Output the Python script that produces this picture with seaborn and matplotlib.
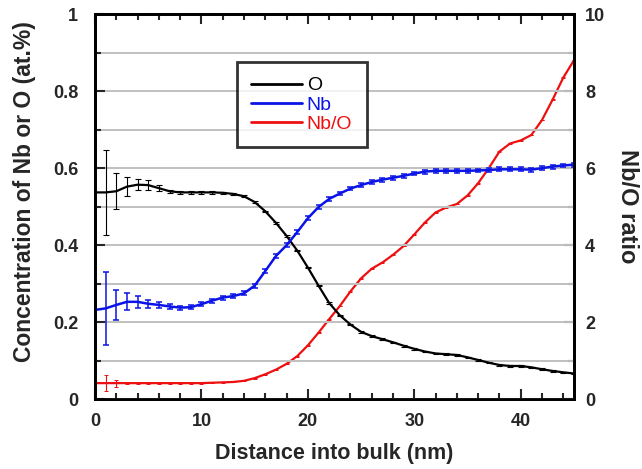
import numpy as np
import pandas as pd
import matplotlib
matplotlib.use("Agg")
import matplotlib.pyplot as plt
import seaborn as sns
from matplotlib.ticker import MultipleLocator
from matplotlib.lines import Line2D

# ---- data ----
distance_nm = list(range(0, 46))

o_conc = [0.537, 0.537, 0.540, 0.552, 0.557, 0.556, 0.548, 0.540, 0.537, 0.537,
          0.537, 0.537, 0.536, 0.533, 0.527, 0.512, 0.488, 0.458, 0.424, 0.386,
          0.342, 0.295, 0.250, 0.218, 0.194, 0.175, 0.164, 0.156, 0.148, 0.139,
          0.131, 0.124, 0.119, 0.117, 0.115, 0.109, 0.102, 0.095, 0.089, 0.0865,
          0.0865, 0.083, 0.078, 0.0735, 0.070, 0.067]
o_err = [0.0, 0.110, 0.047, 0.025, 0.014, 0.012, 0.007, 0.004, 0.003, 0.003,
         0.003, 0.003, 0.003, 0.003, 0.002, 0.002, 0.002, 0.002, 0.002, 0.002,
         0.002, 0.002, 0.002, 0.002, 0.002, 0.002, 0.002, 0.002, 0.002, 0.002,
         0.002, 0.002, 0.002, 0.002, 0.002, 0.002, 0.002, 0.002, 0.002, 0.002,
         0.002, 0.002, 0.002, 0.002, 0.002, 0.002]

nb_conc = [0.232, 0.236, 0.245, 0.253, 0.253, 0.248, 0.245, 0.241, 0.238, 0.239,
           0.247, 0.256, 0.264, 0.268, 0.275, 0.295, 0.333, 0.372, 0.400, 0.434,
           0.470, 0.499, 0.520, 0.534, 0.547, 0.556, 0.564, 0.570, 0.575, 0.580,
           0.586, 0.591, 0.593, 0.593, 0.593, 0.593, 0.594, 0.595, 0.597, 0.597,
           0.597, 0.596, 0.600, 0.604, 0.607, 0.609]
nb_err = [0.0, 0.095, 0.039, 0.0225, 0.015, 0.010, 0.007, 0.006, 0.005, 0.005,
          0.005, 0.005, 0.005, 0.005, 0.005, 0.005, 0.005, 0.005, 0.005, 0.005,
          0.005, 0.005, 0.005, 0.005, 0.005, 0.005, 0.005, 0.005, 0.005, 0.005,
          0.005, 0.005, 0.005, 0.005, 0.005, 0.005, 0.005, 0.005, 0.005, 0.005,
          0.005, 0.005, 0.005, 0.005, 0.005, 0.005]

ratio = [0.42, 0.42, 0.42, 0.42, 0.42, 0.42, 0.42, 0.42, 0.42, 0.42,
         0.42, 0.43, 0.44, 0.45, 0.48, 0.55, 0.65, 0.77, 0.92, 1.12,
         1.40, 1.73, 2.08, 2.42, 2.80, 3.14, 3.39, 3.55, 3.75, 3.98,
         4.28, 4.59, 4.85, 4.98, 5.07, 5.29, 5.61, 6.00, 6.43, 6.64,
         6.72, 6.86, 7.25, 7.78, 8.35, 8.80]
ratio_err = [0.0, 0.20, 0.09, 0.03, 0.01, 0.01, 0.01, 0.01, 0.01, 0.01,
             0.01, 0.01, 0.01, 0.01, 0.01, 0.01, 0.01, 0.01, 0.01, 0.01,
             0.01, 0.01, 0.01, 0.01, 0.01, 0.01, 0.01, 0.01, 0.01, 0.01,
             0.01, 0.01, 0.01, 0.01, 0.01, 0.01, 0.01, 0.01, 0.01, 0.01,
             0.01, 0.01, 0.01, 0.01, 0.01, 0.01]

series_labels = ["O", "Nb", "Nb/O"]
series_colors = ["#000000", "#0a14e6", "#ee1010"]

df = pd.DataFrame({"x": distance_nm, "O": o_conc, "O_err": o_err,
                   "Nb": nb_conc, "Nb_err": nb_err,
                   "ratio": ratio, "ratio_err": ratio_err})

# ---- style ----
sns.set_style("ticks")
plt.rcParams["font.family"] = ["Liberation Sans", "DejaVu Sans"]
plt.rcParams["font.weight"] = "bold"

fig = plt.figure(figsize=(6.42, 4.69), dpi=100)
ax = fig.add_axes([0.148, 0.1486, 0.746, 0.8215])
ax2 = ax.twinx()

# grid lines (horizontal)
ax.set_axisbelow(True)
ax.yaxis.grid(True, which="both", color="#c0c0c0", linewidth=1.4)
ax.xaxis.grid(False)

# O
sns.lineplot(data=df, x="x", y="O", ax=ax, color=series_colors[0], lw=1.6,
             label=series_labels[0], legend=False)
ax.errorbar(df["x"][1:], df["O"][1:], yerr=df["O_err"][1:], fmt="none",
            ecolor=series_colors[0], elinewidth=0.8, capsize=2.0, capthick=0.8)
# Nb
sns.lineplot(data=df, x="x", y="Nb", ax=ax, color=series_colors[1], lw=1.8,
             label=series_labels[1], legend=False)
ax.errorbar(df["x"][1:], df["Nb"][1:], yerr=df["Nb_err"][1:], fmt="none",
            ecolor=series_colors[1], elinewidth=1.1, capsize=2.2, capthick=1.1)
# Nb/O ratio
sns.lineplot(data=df, x="x", y="ratio", ax=ax2, color=series_colors[2], lw=1.6,
             label=series_labels[2], legend=False)
ax2.errorbar(df["x"][1:], df["ratio"][1:], yerr=df["ratio_err"][1:], fmt="none",
             ecolor=series_colors[2], elinewidth=0.8, capsize=1.6, capthick=0.7)

ax.set_xlim(0, 45)
ax.set_ylim(0, 1)
ax2.set_ylim(0, 10)

ax.xaxis.set_major_locator(MultipleLocator(10))
ax.xaxis.set_minor_locator(MultipleLocator(2))
ax.yaxis.set_minor_locator(MultipleLocator(0.1))
ax2.yaxis.set_major_locator(MultipleLocator(2))
ax2.yaxis.set_minor_locator(MultipleLocator(1))

ax.set_yticks([0, 0.2, 0.4, 0.6, 0.8, 1.0])
ax.set_yticklabels(["0", "0.2", "0.4", "0.6", "0.8", "1"])

ax.tick_params(axis="x", which="both", direction="in", top=True, bottom=True,
               labelsize=13, pad=10, width=1.5)
ax.tick_params(axis="y", which="both", direction="in", left=True, right=False,
               labelsize=13, pad=12, width=1.5)
ax.tick_params(which="major", length=7)
ax.tick_params(which="minor", length=4)
ax2.tick_params(axis="y", which="both", direction="in", right=True,
                labelsize=13, pad=8, width=1.5)
ax2.tick_params(which="major", length=7)
ax2.tick_params(which="minor", length=4)

for a in (ax, ax2):
    for s in a.spines.values():
        s.set_linewidth(2.0)
        s.set_color("black")
    for lab in a.get_xticklabels() + a.get_yticklabels():
        lab.set_fontweight("bold")

ax.set_xlabel("Distance into bulk (nm)", fontsize=15.5, fontweight="bold", labelpad=9)
ax.set_ylabel("Concentration of Nb or O (at.%)", fontsize=16.5, fontweight="bold")
ax.yaxis.set_label_coords(-0.124, 0.54)
ax2.set_ylabel("Nb/O ratio", fontsize=17, fontweight="bold", rotation=270, labelpad=24)

handles = [Line2D([0], [0], color=c, lw=2) for c in series_colors]
leg = ax.legend(handles, series_labels, loc="upper left",
                bbox_to_anchor=(0.296, 0.875), borderaxespad=0,
                frameon=True, fancybox=False, edgecolor="black",
                handlelength=2.6, handletextpad=0.25, labelspacing=0.08,
                borderpad=0.75, prop={"size": 14, "weight": "normal"})
leg.get_frame().set_linewidth(2.0)
leg.set_zorder(10)
for txt, c in zip(leg.get_texts(), series_colors):
    txt.set_color(c)

ax.set_zorder(ax2.get_zorder() + 1)
ax.patch.set_visible(False)

fig.savefig("out.png", dpi=100)
